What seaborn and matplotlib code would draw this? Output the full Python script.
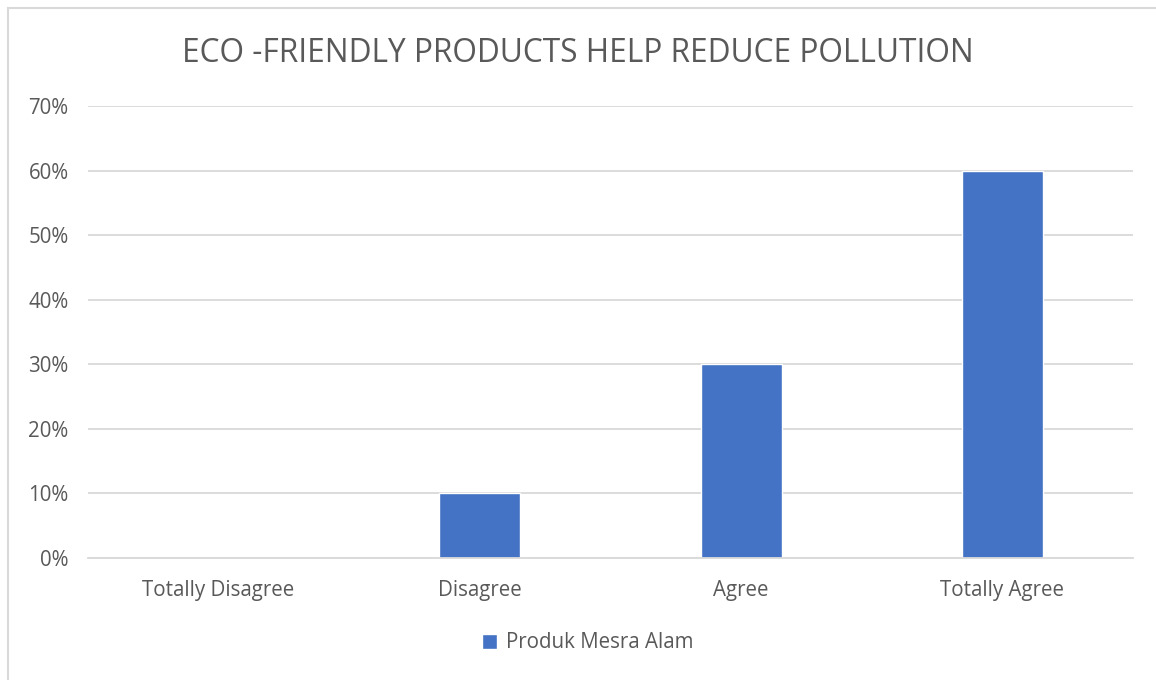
import matplotlib
matplotlib.use("Agg")
import matplotlib.pyplot as plt
import seaborn as sns
import pandas as pd
from matplotlib.patches import Rectangle
from matplotlib.ticker import PercentFormatter

categories = ["Totally Disagree", "Disagree", "Agree", "Totally Agree"]
values = [0.0, 0.10, 0.30, 0.60]
series_name = "Produk Mesra Alam"
title = "ECO -FRIENDLY PRODUCTS HELP REDUCE POLLUTION"

df = pd.DataFrame({"category": categories, "value": values, "series": series_name})

sns.set_theme(style="white")
plt.rcParams["font.family"] = ["Open Sans", "DejaVu Sans"]

fig = plt.figure(figsize=(11.56, 6.8), dpi=100)
ax = fig.add_axes([88/1156, 1-558/680, (1133-88)/1156, (558-106)/680])

sns.barplot(data=df, x="category", y="value", hue="series", palette=["#4472C4"],
            saturation=1, width=0.31, ax=ax, legend=True)

ax.set_ylim(0, 0.70)
ax.set_yticks([i/10 for i in range(8)])
ax.yaxis.set_major_formatter(PercentFormatter(1.0, decimals=0))
ax.yaxis.grid(True, color="#D9D9D9", linewidth=1.3)
ax.set_axisbelow(True)
for s in ["top", "right", "left"]:
    ax.spines[s].set_visible(False)
ax.spines["bottom"].set_color("#D9D9D9")
ax.spines["bottom"].set_linewidth(1.3)
ax.set_xlabel("")
ax.set_ylabel("")
ax.tick_params(axis="both", length=0, labelsize=14.8, colors="#595959")
ax.tick_params(axis="y", pad=14)
ax.tick_params(axis="x", pad=16)

fig.text(0.5, 1-54/680, title, ha="center", va="center", fontsize=22.8, color="#595959")

leg = ax.legend(loc="center", bbox_to_anchor=(0.5 + 10/1156, 1-643/680), bbox_transform=fig.transFigure,
                frameon=False, fontsize=14.8, handlelength=0.7, handleheight=0.7,
                handletextpad=0.45, labelcolor="#595959")

fig.patches.append(Rectangle((8/1156, -0.1), 1.2, 1.1 - 8/680, transform=fig.transFigure,
                             fill=False, edgecolor="#D9D9D9", linewidth=1.5))

fig.savefig("out.png", dpi=100, facecolor="white")
